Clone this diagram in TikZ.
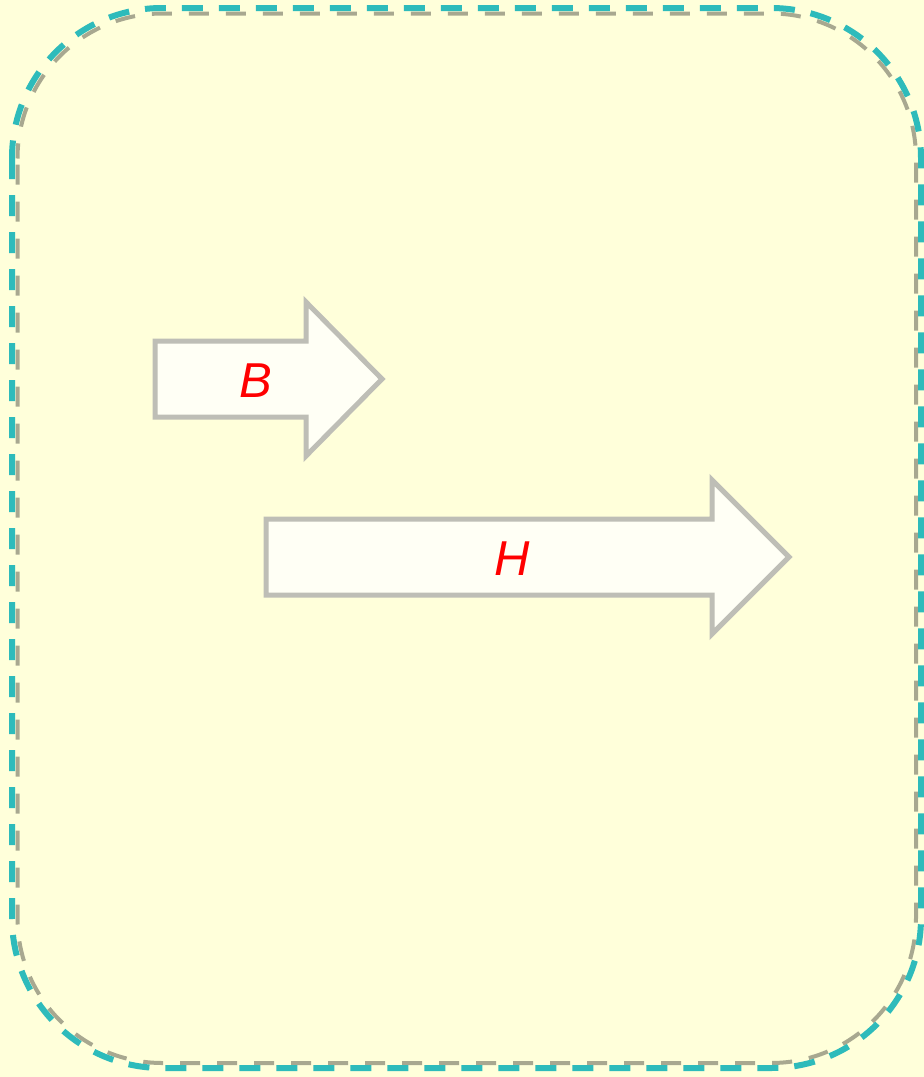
\documentclass[tikz,border=0pt]{standalone}
\usepackage{fontspec}
\setmainfont{Liberation Sans}
\definecolor{bgyel}{RGB}{255,255,218}
\definecolor{frameteal}{RGB}{46,187,187}
\definecolor{markgray}{RGB}{140,140,120}
\definecolor{arrgray}{RGB}{190,190,182}
\definecolor{arrfill}{RGB}{255,255,245}
\begin{document}
\begin{tikzpicture}[x=1pt,y=-1pt,
  frame/.style={draw=frameteal, line width=6pt, dash pattern=on 21pt off 16pt, rounded corners=150pt},
  marks/.style={draw=markgray, line width=4pt, dash pattern=on 20pt off 17pt, dash phase=-6pt, rounded corners=145pt, draw opacity=0.75},
  arrowbox/.style={draw=arrgray, fill=arrfill, line width=5pt, line join=miter},
  lbl/.style={text=red, font=\fontsize{49}{59}\selectfont\itshape}]
\fill[bgyel] (0,0) rectangle (924,1077);
\useasboundingbox (0,0) rectangle (924,1077);
\draw[marks] (17.5,13.5) rectangle (916,1063);
\draw[frame] (12,8) rectangle (921,1068);
\draw[arrowbox] (155,341) -- (306,341) -- (306,302) -- (382,379) -- (306,456) -- (306,417) -- (155,417) -- cycle;
\node[lbl] (B) at (256,381) {B};
\draw[arrowbox] (266,519) -- (712,519) -- (712,480) -- (789,557) -- (712,634) -- (712,595) -- (266,595) -- cycle;
\node[lbl] (H) at (512,559) {H};
\end{tikzpicture}
\end{document}
